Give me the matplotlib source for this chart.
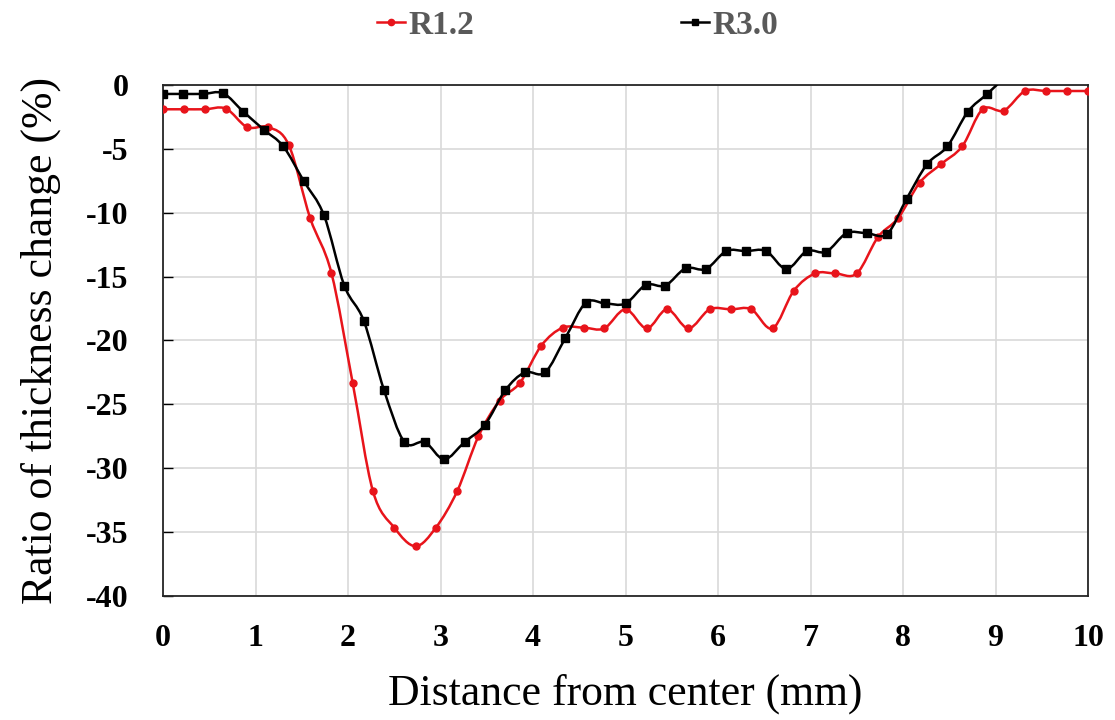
import matplotlib
matplotlib.use("Agg")
import matplotlib.pyplot as plt
from matplotlib.lines import Line2D
from matplotlib.path import Path
from matplotlib.patches import PathPatch

# Distance from center (mm)
r12_x = [0.00, 0.23, 0.45, 0.68, 0.91, 1.14, 1.36, 1.59, 1.82, 2.05, 2.27, 2.50, 2.73, 2.95,
         3.18, 3.41, 3.64, 3.86, 4.09, 4.32, 4.55, 4.77, 5.00, 5.23, 5.45, 5.68, 5.91, 6.14,
         6.36, 6.59, 6.82, 7.05, 7.27, 7.50, 7.73, 7.95, 8.18, 8.41, 8.64, 8.86, 9.09, 9.32,
         9.55, 9.77, 10.00]
r12_y = [-1.9, -1.9, -1.9, -1.85, -3.3, -3.3, -4.7, -10.4, -14.7, -23.3, -31.8, -34.65, -36.1,
         -34.65, -31.8, -27.5, -24.7, -23.3, -20.4, -19.0, -19.0, -19.05, -17.56, -19.05, -17.56,
         -19.05, -17.56, -17.56, -17.56, -19.05, -16.1, -14.75, -14.75, -14.75, -11.9, -10.4,
         -7.65, -6.2, -4.8, -1.9, -2.0, -0.47, -0.47, -0.47, -0.47]

r30_x = [0.00, 0.22, 0.43, 0.65, 0.87, 1.09, 1.30, 1.52, 1.74, 1.96, 2.17, 2.39, 2.61, 2.83,
         3.04, 3.26, 3.48, 3.70, 3.91, 4.13, 4.35, 4.57, 4.78, 5.00, 5.22, 5.43, 5.65, 5.87,
         6.09, 6.30, 6.52, 6.74, 6.96, 7.17, 7.39, 7.61, 7.83, 8.04, 8.26, 8.48, 8.70, 8.91,
         9.13]
r30_y = [-0.7, -0.7, -0.7, -0.65, -2.1, -3.5, -4.8, -7.5, -10.2, -15.7, -18.45, -23.9, -27.95,
         -27.95, -29.3, -27.95, -26.6, -23.9, -22.5, -22.5, -19.8, -17.05, -17.1, -17.1, -15.65,
         -15.7, -14.35, -14.4, -13.0, -13.0, -13.0, -14.4, -13.0, -13.05, -11.6, -11.6, -11.65,
         -8.9, -6.2, -4.8, -2.1, -0.7, 0.8]

x_ticks = [0, 1, 2, 3, 4, 5, 6, 7, 8, 9, 10]
y_ticks = [-40, -35, -30, -25, -20, -15, -10, -5, 0]
series_names = ["R1.2", "R3.0"]

RED = "#e8141b"
BLACK = "#000000"
serif = ["Liberation Serif", "DejaVu Serif"]
plt.rcParams["font.family"] = serif

fig = plt.figure(figsize=(11.15, 7.2), dpi=100)
ax = fig.add_axes([163 / 1115, 1 - 596 / 720, (1088 - 163) / 1115, (596 - 85) / 720])


def smooth_path(xs, ys):
    """Smoothed (spreadsheet-style) line through the data points, as a Bezier path."""
    n = len(xs)
    verts = [(xs[0], ys[0])]
    codes = [Path.MOVETO]
    for i in range(n - 1):
        x0, y0 = xs[max(i - 1, 0)], ys[max(i - 1, 0)]
        x1, y1 = xs[i], ys[i]
        x2, y2 = xs[i + 1], ys[i + 1]
        x3, y3 = xs[min(i + 2, n - 1)], ys[min(i + 2, n - 1)]
        c1 = (x1 + (x2 - x0) / 6.0, y1 + (y2 - y0) / 6.0)
        c2 = (x2 - (x3 - x1) / 6.0, y2 - (y3 - y1) / 6.0)
        verts += [c1, c2, (x2, y2)]
        codes += [Path.CURVE4] * 3
    return Path(verts, codes)


for xs, ys, col, mk, ms, z in [(r12_x, r12_y, RED, "o", 5, 3), (r30_x, r30_y, BLACK, "s", 5.5, 4)]:
    patch = PathPatch(smooth_path(xs, ys), facecolor="none", edgecolor=col, lw=1.8, zorder=z)
    ax.add_patch(patch)
    ax.plot(xs, ys, linestyle="none", color=col, marker=mk, ms=ms, zorder=z)

ax.set_xlim(0, 10)
ax.set_ylim(-40, 0)
ax.set_xticks(x_ticks)
ax.set_yticks(y_ticks)
ax.set_xticklabels([str(t) for t in x_ticks], fontsize=23, fontweight="bold")
ax.set_yticklabels([str(t) for t in y_ticks], fontsize=23, fontweight="bold")
ax.tick_params(axis="y", direction="in", length=7, width=1, pad=25)
ax.tick_params(axis="x", length=0, pad=20)
ax.grid(True, color="#d9d9d9", lw=1.2)
ax.set_axisbelow(True)
for s in ax.spines.values():
    s.set_color("#262626")
    s.set_linewidth(1.3)

ax.set_xlabel("Distance from center (mm)", fontsize=31.5, labelpad=15)
ax.set_ylabel("Ratio of thickness change (%)", fontsize=31.5, labelpad=18)

handles = [
    Line2D([], [], color=RED, lw=1.8, marker="o", ms=4.5),
    Line2D([], [], color=BLACK, lw=1.8, marker="s", ms=4.5),
]
leg = fig.legend(handles, series_names, loc="center", bbox_to_anchor=(0.518, 0.965),
                 ncol=2, frameon=False, handlelength=0.85, handletextpad=0.1,
                 columnspacing=6.2, prop={"family": serif, "size": 24, "weight": "bold"})
for t in leg.get_texts():
    t.set_color("#595959")

fig.savefig("out.png", dpi=100)
